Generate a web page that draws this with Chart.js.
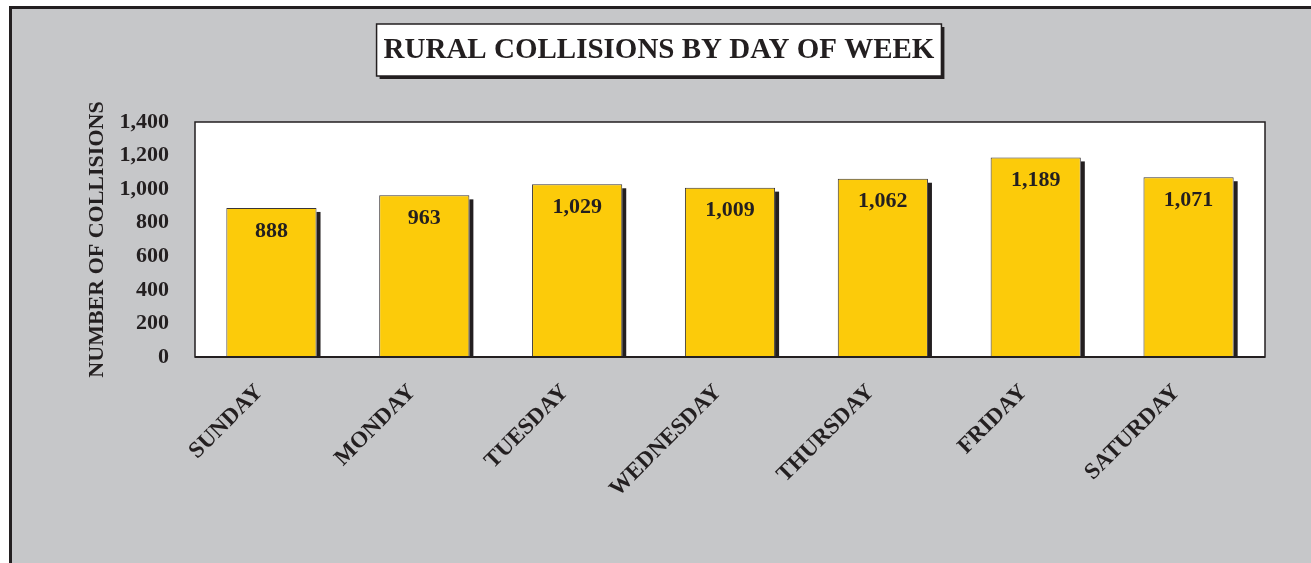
<!DOCTYPE html>
<html>
<head>
<meta charset="utf-8">
<script src="https://cdn.jsdelivr.net/npm/chart.js@4.4.1/dist/chart.umd.min.js"></script>
<style>
  body { margin: 0; background: #fff; }
  canvas { display: block; }
</style>
</head>
<body>
<canvas id="canvas" width="1311" height="563"></canvas>
<script>
const chartTitle = 'RURAL COLLISIONS BY DAY OF WEEK';
const yAxisTitle = 'NUMBER OF COLLISIONS';
const days = ['SUNDAY', 'MONDAY', 'TUESDAY', 'WEDNESDAY', 'THURSDAY', 'FRIDAY', 'SATURDAY'];
const collisions = [888, 963, 1029, 1009, 1062, 1189, 1071];
const yTicks = [0, 200, 400, 600, 800, 1000, 1200, 1400];

const SERIF = '"Liberation Serif", "Times New Roman", serif';
const GRAY = '#c6c7c9';
const DARK = '#231f20';
const YELLOW = '#fccb0a';

const fmt = v => v.toLocaleString('en-US');

// page frame, plot background and the boxed title
const backdrop = {
  id: 'backdrop',
  beforeDraw(chart) {
    const {ctx, width, height, chartArea: a} = chart;
    ctx.save();
    ctx.fillStyle = '#fff';
    ctx.fillRect(0, 0, width, height);
    ctx.fillStyle = GRAY;
    ctx.fillRect(9, 6, width, height);
    ctx.fillStyle = DARK;
    ctx.fillRect(9, 6, 3, height);
    ctx.fillRect(9, 6, width, 3);

    ctx.fillStyle = '#fff';
    ctx.fillRect(a.left, a.top, a.width, a.height);

    // title box with drop shadow
    ctx.font = `bold 29px ${SERIF}`;
    const tw = ctx.measureText(chartTitle).width;
    const bw = tw + 14, bh = 52;
    const bx = 659 - bw / 2, by = 24;
    ctx.fillStyle = DARK;
    ctx.fillRect(bx + 3, by + 3, bw, bh);
    ctx.fillStyle = '#fff';
    ctx.fillRect(bx, by, bw, bh);
    ctx.strokeStyle = DARK;
    ctx.lineWidth = 1.5;
    ctx.strokeRect(bx, by, bw, bh);
    ctx.fillStyle = DARK;
    ctx.textAlign = 'center';
    ctx.textBaseline = 'middle';
    ctx.fillText(chartTitle, 659, by + bh / 2 + 1);
    ctx.restore();
  },
  beforeDatasetsDraw(chart) {
    // bar shadows on the right side
    const {ctx} = chart;
    const meta = chart.getDatasetMeta(0);
    ctx.save();
    ctx.fillStyle = DARK;
    meta.data.forEach(bar => {
      const right = bar.x + bar.width / 2;
      ctx.fillRect(right, bar.y + 4, 4, bar.base - bar.y - 4);
    });
    ctx.restore();
  },
  afterDatasetsDraw(chart) {
    const {ctx, chartArea: a} = chart;
    const meta = chart.getDatasetMeta(0);
    ctx.save();
    ctx.fillStyle = DARK;
    ctx.font = `bold 22px ${SERIF}`;
    ctx.textAlign = 'center';
    ctx.textBaseline = 'middle';
    meta.data.forEach((bar, i) => {
      ctx.fillText(fmt(collisions[i]), bar.x, bar.y + 23);
    });
    ctx.strokeStyle = DARK;
    ctx.lineWidth = 1.5;
    ctx.strokeRect(a.left, a.top, a.width, a.height);
    ctx.beginPath();
    ctx.moveTo(a.left, a.bottom);
    ctx.lineTo(a.right, a.bottom);
    ctx.lineWidth = 2;
    ctx.stroke();
    ctx.restore();
  }
};

const config = {
  type: 'bar',
  data: {
    labels: days,
    datasets: [
      {
        data: collisions,
        backgroundColor: YELLOW,
        borderColor: '#3a3536',
        borderWidth: 1,
        borderSkipped: 'bottom',
        barPercentage: 0.59,
        categoryPercentage: 1,
      },
    ],
  },
  options: {
    responsive: false,
    animation: false,
    devicePixelRatio: 1,
    layout: {padding: {left: 84, top: 122, right: 46, bottom: 0}},
    plugins: {
      legend: {display: false},
      tooltip: {enabled: false},
    },
    scales: {
      x: {
        grid: {display: false, drawTicks: false},
        border: {display: false},
        ticks: {
          color: DARK,
          font: {family: SERIF, size: 23, weight: 'bold'},
          minRotation: 45,
          maxRotation: 45,
          autoSkip: false,
          padding: 22,
          labelOffset: -12,
        },
        afterFit: scale => { scale.height = 206; },
      },
      y: {
        min: 0,
        max: 1400,
        grid: {display: false, drawTicks: false},
        border: {display: false},
        afterBuildTicks: scale => {
          scale.ticks = yTicks.map(value => ({value}));
        },
        ticks: {
          color: DARK,
          font: {family: SERIF, size: 22, weight: 'bold'},
          padding: 26,
          callback: v => fmt(v),
        },
        title: {
          display: true,
          text: yAxisTitle,
          color: DARK,
          font: {family: SERIF, size: 22, weight: 'bold'},
          padding: 0,
        },
        afterFit: scale => { scale.width = 111; },
      },
    },
  },
  plugins: [backdrop],
};

document.addEventListener('DOMContentLoaded', () => {
  const context = document.getElementById('canvas').getContext('2d');
  new Chart(context, config);
});
</script>
</body>
</html>
